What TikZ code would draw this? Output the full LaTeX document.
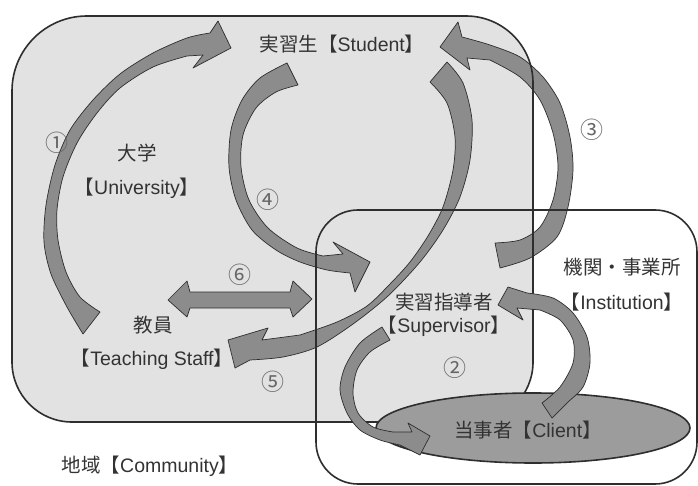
\documentclass[tikz,border=0pt]{standalone}
\usepackage{fontspec}
\setmainfont{Liberation Sans}
\newfontfamily\jp{Noto Sans CJK JP}
\definecolor{ink}{HTML}{333333}
\definecolor{univ}{HTML}{E2E2E2}
\definecolor{arrfill}{HTML}{8C8C8C}
\definecolor{clifill}{HTML}{9C9C9C}
\definecolor{edge}{HTML}{2E2E2E}
\tikzset{
  boxline/.style={draw=edge, line width=1.6pt},
  arr/.style={fill=arrfill, draw=edge, line width=0.7pt, line join=round},
  lbl/.style={text=ink, font=\fontsize{19.5}{22}\selectfont, inner sep=0pt},
  num/.style={text=ink!75, font=\jp\fontsize{23}{26}\selectfont, inner sep=0pt},
}
\begin{document}
\begin{tikzpicture}[x=1pt,y=-1pt]
\useasboundingbox (0,0) rectangle (698,486);
\fill[white] (0,0) rectangle (698,486);
% fills
\fill[white, rounded corners=42pt] (316,210) rectangle (697,484);
\path[fill=univ] (87,16) -- (466,16) arc[start angle=90, end angle=0, radius=67pt]
  -- (533,362) arc[start angle=0, end angle=-90, radius=60pt]
  -- (72,422) arc[start angle=-90, end angle=-180, radius=60pt]
  -- (12,91) arc[start angle=180, end angle=90, radius=75pt] -- cycle;
% arrows (1),(3),(4),(5),(6)
\path[arr] plot[smooth] coordinates {(83,334) (67,307) (51,274) (44,242) (46,205) (55,165) (70,130) (93,100) (120,74) (153,53) (187,38) (210,33)}
  -- (218,21) -- (231,48) -- (193,68) -- (203,55)
  -- plot[smooth] coordinates {(187,56) (153,67) (120,88) (97,113) (77,143) (63,177) (57,210) (58,240) (66,272) (80,297) (100,312)} -- cycle;
\path[arr] plot[smooth] coordinates {(287,63) (260,78) (242,100) (231,130) (229,167) (236,200) (252,230) (276,250) (300,262) (327,270) (350,273)}
  -- (355,292) -- (370,262) -- (333,242) -- (343,254)
  -- plot[smooth] coordinates {(323,256) (297,248) (268,228) (249,200) (241,167) (243,135) (256,108) (276,92) (298,85)} -- cycle;
\path[arr] plot[smooth] coordinates {(447,62) (463,83) (472,120) (470,160) (460,197) (443,230) (420,262) (388,296) (353,324) (317,347) (283,357) (250,360)}
  -- (235,368) -- (228,340) -- (268,328) -- (262,340)
  -- plot[smooth] coordinates {(300,335) (337,322) (367,306) (390,284) (410,262) (428,236) (443,207) (453,170) (455,137) (447,103) (430,82)} -- cycle;
\path[arr] plot[smooth] coordinates {(500,268) (530,258) (557,237) (568,207) (573,170) (570,137) (560,103) (543,77) (520,57) (490,45) (462,37)}
  -- (458,22) -- (440,47) -- (470,70) -- (467,58)
  -- plot[smooth] coordinates {(490,60) (520,77) (540,100) (553,133) (558,167) (553,200) (540,227) (520,240) (495,243)} -- cycle;
\path[arr] (168,300) -- (187,281) -- (190,292) -- (290,292) -- (293,281) -- (312,299) -- (293,317) -- (290,308) -- (190,308) -- (187,317) -- cycle;
% outlines
\draw[boxline, rounded corners=42pt] (316,210) rectangle (697,484);
\draw[boxline] (87,16) -- (466,16) arc[start angle=90, end angle=0, radius=67pt]
  -- (533,362) arc[start angle=0, end angle=-90, radius=60pt]
  -- (72,422) arc[start angle=-90, end angle=-180, radius=60pt]
  -- (12,91) arc[start angle=180, end angle=90, radius=75pt] -- cycle;
% client ellipse
\draw[fill=clifill, draw=edge, line width=1.6pt] (533,428) ellipse [x radius=157pt, y radius=35pt];
% arrows (2)
\path[arr] plot[smooth] coordinates {(382,327) (360,343) (345,367) (340,390) (347,413) (360,430) (380,440) (400,445)}
  -- (420,455) -- (430,436) -- (408,423) -- (412,432)
  -- plot[smooth] coordinates {(393,432) (373,427) (358,413) (353,393) (357,370) (370,352) (390,340)} -- cycle;
\path[arr] plot[smooth] coordinates {(552,418) (567,403) (583,387) (590,363) (587,337) (573,313) (553,298) (527,293)}
  -- (508,287) -- (498,305) -- (523,320) -- (517,308)
  -- plot[smooth] coordinates {(540,310) (560,320) (573,340) (573,363) (560,387) (542,403)} -- cycle;
% labels
\node[lbl] (stu) at (342,44) {{\jp 実習生【}Student{\jp 】}};
\node[lbl] (uni) at (137,153) {\jp 大学};
\node[lbl] (unien) at (137,188) {{\jp\kern-.5em【}University{\jp 】\kern-.5em}};
\node[lbl] (inst) at (622,267) {\jp 機関・事業所};
\node[lbl] (insten) at (622,302) {{\jp\kern-.5em【}Institution{\jp 】\kern-.5em}};
\node[lbl] (sup) at (444,302) {\jp 実習指導者};
\node[lbl] (supen) at (444,326) {{\jp\kern-.5em【}Supervisor{\jp 】\kern-.5em}};
\node[lbl] (cli) at (528,430) {{\jp 当事者【}Client{\jp 】}};
\node[lbl] (staff) at (153,325) {\jp 教員};
\node[lbl] (staffen) at (152,359) {{\jp\kern-.5em【}Teaching Staff{\jp 】\kern-.5em}};
\node[lbl] (com) at (150,466) {{\jp 地域【}Community{\jp 】}};
% numbers
\node[num] (n1) at (57,143) {①};
\node[num] (n2) at (455,368) {②};
\node[num] (n3) at (592,130) {③};
\node[num] (n4) at (268,200) {④};
\node[num] (n5) at (273,382) {⑤};
\node[num] (n6) at (240,275) {⑥};
\end{tikzpicture}
\end{document}
